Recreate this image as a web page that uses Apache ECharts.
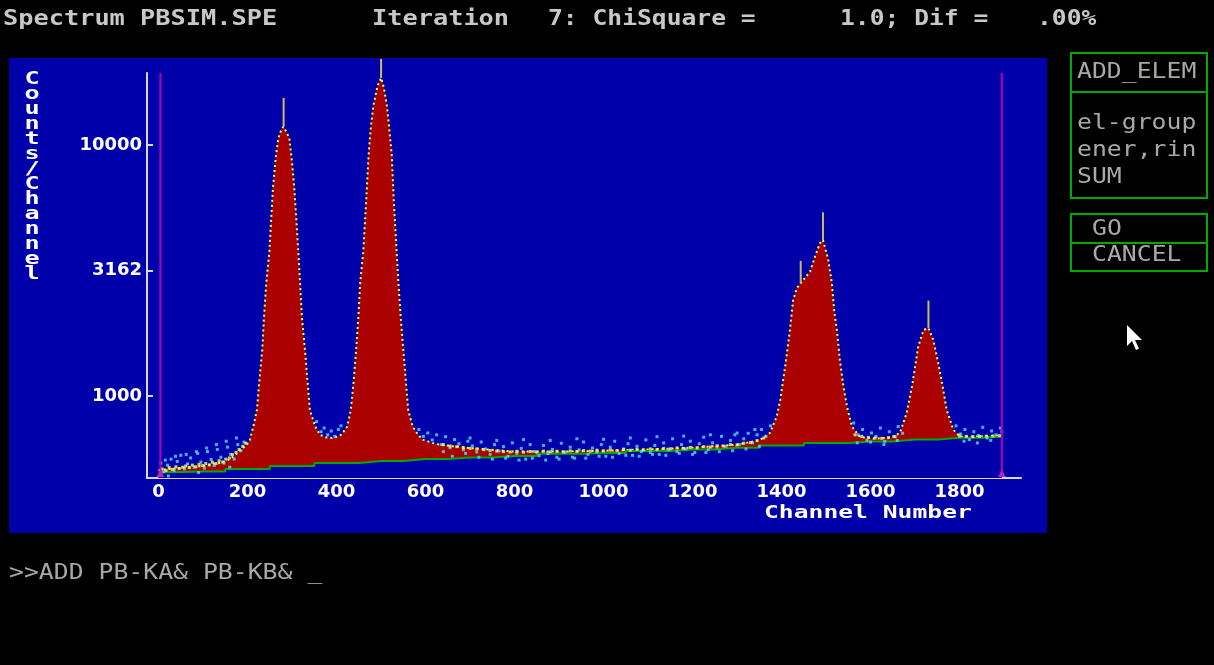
<!DOCTYPE html>
<html><head><meta charset="utf-8">
<script src="https://cdn.jsdelivr.net/npm/echarts@6/dist/echarts.min.js"></script>
<style>html,body{margin:0;padding:0;background:#000;}#c{width:1214px;height:665px;}</style>
</head><body><div id="c"></div>
<script>
// ---- data ----
const fitChannels = [0,50,100,150,170,185,198,205,213,221,226,233,237,242,249,257,263,269,275,280,287,294,300,305,310,314,318,322,329,335,340,352,363,375,390,405,412,418,424,432,438,444,449,453,460,466,472,477,483,492,500,506,513,518,524,529,535,539,544,550,556,561,571,583,595,615,633,700,800,900,1000,1100,1200,1300,1350,1374,1389,1397,1408,1418,1426,1434,1443,1455,1464,1475,1486,1493,1499,1505,1513,1518,1525,1531,1539,1547,1558,1576,1610,1650,1666,1681,1693,1700,1707,1719,1730,1741,1752,1762,1771,1786,1801,1850,1895];
const fitCounts = [507,516,526,546,577,610,638,668,755,879,1124,1524,2070,2812,3758,6722,8800,10630,11400,11830,11300,10630,8500,6722,4900,3758,2812,2070,1524,1124,879,755,700,685,680,690,705,730,755,879,1124,1524,2070,2812,3758,5768,9120,11800,14420,17200,18500,17000,14420,11800,9120,5768,3758,2812,2070,1524,1124,879,755,700,668,650,638,620,600,600,605,612,622,640,665,713,828,964,1309,1782,2411,2685,2818,2990,3126,3591,4057,4183,3818,3483,2818,2203,1782,1390,1089,906,755,687,675,685,713,855,1089,1309,1571,1832,1862,1671,1350,1089,879,733,688,690,695];
const bgChannels = [0,100,200,300,400,500,600,700,800,900,1000,1100,1200,1300,1400,1500,1600,1700,1800,1895];
const bgCounts = [498,500,512,526,541,551,561,569,577,588,593,604,612,621,635,650,659,671,681,687];
// scattered data points (cyan) and data points close to the fit (yellow)
const dataScatter = [[5,540],[12,498],[15,555],[20,530],[22,480],[28,560],[35,505],[38,575],[42,548],[50,580],[58,512],[62,585],[65,536],[72,566],[80,520],[85,600],[88,590],[90,495],[95,545],[103,515],[108,620],[110,600],[118,558],[125,528],[130,640],[132,612],[140,570],[147,540],[152,660],[155,625],[160,520],[162,585],[170,560],[175,680],[178,640],[185,605],[192,655],
[355,790],[365,720],[372,745],[380,700],[388,725],[396,690],[404,735],[410,760],
[585,735],[595,690],[605,712],[615,668],[625,700],[635,640],[640,600],[645,688],[655,622],[660,575],[665,670],[675,645],[685,610],[690,590],[695,660],[700,680],[705,632],[715,598],[720,570],[725,655],[735,615],[745,585],[750,560],[755,640],[760,665],[765,603],[775,628],[780,565],[785,575],[795,650],[805,590],[810,555],[815,618],[820,670],[825,560],[835,640],[840,565],[845,600],[855,578],[865,635],[870,555],[875,590],[880,665],[885,612],[895,570],[900,560],[905,648],[915,598],[925,625],[930,570],[935,565],[940,675],[945,610],[955,655],[960,565],[965,585],[975,620],[985,598],[990,575],[995,640],[1000,672],[1005,575],[1015,625],[1020,570],[1025,660],[1035,590],[1045,615],[1050,580],[1055,645],[1060,680],[1065,580],[1075,630],[1080,575],[1085,600],[1095,668],[1105,595],[1110,585],[1115,635],[1120,688],[1125,585],[1135,650],[1140,580],[1145,610],[1155,675],[1165,600],[1170,590],[1175,640],[1180,692],[1185,615],[1195,660],[1200,585],[1205,595],[1215,645],[1225,685],[1230,595],[1235,610],[1240,700],[1245,650],[1255,625],[1260,600],[1265,690],[1275,630],[1285,665],[1290,605],[1295,700],[1300,712],[1305,640],[1315,675],[1320,615],[1325,710],[1335,650],[1340,735],[1345,700],[1350,630],[1355,735],[1365,690],[1375,760],
[1562,780],[1570,650],[1572,700],[1582,735],[1592,665],[1600,655],[1602,712],[1612,690],[1622,745],[1630,640],[1632,660],[1642,720],[1652,690],[1660,665],[1662,755],[1672,710],
[1792,760],[1802,705],[1810,660],[1812,735],[1822,670],[1832,720],[1840,650],[1842,695],[1852,750],[1862,680],[1870,665],[1872,725],[1882,700],[1892,745],[1895,720]];
const dataNear = [[8,512],[17,505],[24,518],[31,510],[39,522],[46,514],[54,520],[61,526],[69,518],[76,530],[84,522],[91,533],[99,528],[106,538],[114,531],[121,544],[129,538],[136,552],[144,546],[151,560],[159,566],[166,584],[174,596],[181,612],[189,630],[196,648],
[640,640],[655,632],[670,628],[685,622],[700,618],[715,615],[730,611],[745,606],[760,603],[775,600],[790,598],[805,602],[820,597],[835,601],[850,598],[865,603],[880,599],[895,602],[910,598],[925,604],[940,601],[955,606],[970,603],[985,608],[1000,604],[1015,609],[1030,606],[1045,611],[1060,608],[1075,613],[1090,610],[1105,615],[1120,612],[1135,618],[1150,616],[1165,621],[1180,618],[1195,624],[1210,621],[1225,628],[1240,626],[1255,633],[1270,631],[1285,640],[1300,638],[1315,648],[1330,652],[1345,664],[1360,680],
[1565,700],[1580,690],[1595,684],[1610,680],[1625,678],[1640,682],[1655,688],[1800,692],[1815,690],[1830,688],[1845,690],[1860,692],[1875,693],[1890,695]];
const markerChannels = [281,500,1443,1493,1730];
const markerLow = [11830,18500,2818,4183,1862];
const markerHigh = [15420,22030,3452,5394,2399];
const roiChannels = [4,1895];
const xTickLabels = [0,200,400,600,800,1000,1200,1400,1600,1800];
const xTickMarks = [200,400,600,800,1000,1200,1400,1600,1800];
const yTickLabels = [1000,3162,10000];
const countsMin = 471, countsMax = 19360;
const xMin = -26, xMax = 1938;

const L = Math.log10;
const yMin = L(countsMin), yMax = L(countsMax);
const chart = echarts.init(document.getElementById('c'), null, {renderer:'canvas'});

const mono = 'DejaVu Sans Mono';
function txt(s, x, y, o) {
  o = o || {};
  return {type:'text', x:x, y:y, z:20, silent:true, scaleX:o.sx||1,
    style:{text:s, fill:o.color||'#a8a8a8', font:(o.bold?'bold ':'')+(o.size||21)+'px "'+mono+'"',
      align:o.align||'left', verticalAlign:o.va||'middle', lineHeight:o.lh}};
}
const grey = '#a8a8a8', green = '#00aa00';

const option = {
  backgroundColor:'#000000',
  animation:false,
  grid:{left:147, top:73, width:874, height:405, outerBoundsMode:'none', containLabel:false},
  xAxis:{type:'value', min:xMin, max:xMax,
    axisLine:{show:true, onZero:false, lineStyle:{color:'#d8d8f8', width:2}},
    axisTick:{show:true, inside:true, length:6, customValues:xTickMarks, lineStyle:{color:'#d8d8f8', width:2}},
    axisLabel:{customValues:xTickLabels, color:'#ffffff', fontFamily:'DejaVu Sans', fontWeight:'bold', fontSize:18, margin:5,
      formatter:v=>String(v)},
    splitLine:{show:false}},
  yAxis:{type:'value', min:yMin, max:yMax,
    axisLine:{show:true, onZero:false, lineStyle:{color:'#d8d8f8', width:2}},
    axisTick:{show:true, inside:true, length:6, customValues:yTickLabels.map(L), lineStyle:{color:'#d8d8f8', width:2}},
    axisLabel:{customValues:yTickLabels.map(L), color:'#ffffff', fontFamily:'DejaVu Sans', fontWeight:'bold', fontSize:18, margin:5,
      formatter:v=>String(Math.round(Math.pow(10,v)))},
    splitLine:{show:false}},
  series:[
    {type:'line', name:'fit', z:2, symbol:'none', data:fitChannels.map((c,i)=>[c, L(fitCounts[i])]),
      lineStyle:{color:'#ffff55', width:2, type:[2,3]}, areaStyle:{color:'#aa0000', opacity:1, origin:'start'}},
    {type:'line', name:'background', z:3, symbol:'none', step:'middle', data:bgChannels.map((c,i)=>[c, L(bgCounts[i])]),
      lineStyle:{color:'#00aa00', width:2}, areaStyle:{color:'#0000aa', opacity:1, origin:'start'}},
    {type:'scatter', name:'data', z:4, symbol:'rect', symbolSize:3, data:dataScatter.map(p=>[p[0], L(p[1])]),
      itemStyle:{color:'#55ddff'}},
    {type:'scatter', name:'data near fit', z:4, symbol:'rect', symbolSize:3, data:dataNear.map(p=>[p[0], L(p[1])]),
      itemStyle:{color:'#ffff55'}},
    {type:'custom', name:'markers', z:5, clip:false, data:markerChannels.map((c,i)=>[c, L(markerLow[i]), L(markerHigh[i])]),
      renderItem:(p,api)=>{const a=api.coord([api.value(0),api.value(1)]);const b=api.coord([api.value(0),api.value(2)]);
        return {type:'line', shape:{x1:a[0],y1:a[1],x2:b[0],y2:b[1]}, style:{stroke:'#c8bc5c', lineWidth:2}};}},
    {type:'custom', name:'roi', z:6, clip:false, data:roiChannels.map(c=>[c, yMin, yMax]),
      renderItem:(p,api)=>{const a=api.coord([api.value(0),api.value(1)]);const b=api.coord([api.value(0),api.value(2)]);
        return {type:'group', children:[
          {type:'line', shape:{x1:a[0],y1:a[1]-1,x2:b[0],y2:b[1]}, style:{stroke:'#b000b0', lineWidth:2}},
          {type:'polygon', shape:{points:[[a[0]-4,a[1]-1],[a[0]+4,a[1]-1],[a[0],a[1]-8]]}, style:{fill:'#c020c0'}}]};}}
  ],
  graphic:[
    {type:'rect', z:-10, silent:true, shape:{x:9,y:58,width:1038,height:475}, style:{fill:'#0000aa'}},
    txt('Spectrum PBSIM.SPE', 3, 19, {size:22, bold:true, sx:1.15, color:'#c8c8c8'}),
    txt('Iteration', 372, 19, {size:22, bold:true, sx:1.15, color:'#c8c8c8'}),
    txt('7: ChiSquare =', 548, 19, {size:22, bold:true, sx:1.12, color:'#c8c8c8'}),
    txt('1.0; Dif =', 840, 19, {size:22, bold:true, sx:1.12, color:'#c8c8c8'}),
    txt('.00%', 1037, 19, {size:22, bold:true, sx:1.12, color:'#c8c8c8'}),
    {type:'rect', z:20, silent:true, shape:{x:1071,y:53,width:136,height:145}, style:{fill:'none', stroke:green, lineWidth:2}},
    {type:'line', z:20, silent:true, shape:{x1:1071,y1:92,x2:1207,y2:92}, style:{stroke:green, lineWidth:2}},
    {type:'rect', z:20, silent:true, shape:{x:1071,y:214,width:136,height:57}, style:{fill:'none', stroke:green, lineWidth:2}},
    {type:'line', z:20, silent:true, shape:{x1:1071,y1:243,x2:1207,y2:243}, style:{stroke:green, lineWidth:2}},
    txt('ADD_ELEM', 1077, 73, {sx:1.18, color:grey}),
    txt('el-group', 1077, 124, {sx:1.18, color:grey}),
    txt('ener,rin', 1077, 151, {sx:1.18, color:grey}),
    txt('SUM', 1077, 178, {sx:1.18, color:grey}),
    txt('GO', 1092, 230, {sx:1.18, color:grey}),
    txt('CANCEL', 1092, 256, {sx:1.18, color:grey}),
    txt('>>ADD PB-KA& PB-KB& _', 9, 574, {sx:1.18, color:grey}),
    txt('Channel Number', 764, 513, {size:18, bold:true, sx:1.37, color:'#ffffff'}),
    txt('C\no\nu\nn\nt\ns\n/\nC\nh\na\nn\nn\ne\nl', 32, 72, {size:18, bold:true, sx:1.4, color:'#ffffff', align:'center', va:'top', lh:15}),
    {type:'polygon', z:20, silent:true, shape:{points:[[1127,325],[1127,346],[1132,341],[1136,350],[1139,348.5],[1135,340],[1142,340]]}, style:{fill:'#ffffff'}}
  ]
};
chart.setOption(option);
</script></body></html>
